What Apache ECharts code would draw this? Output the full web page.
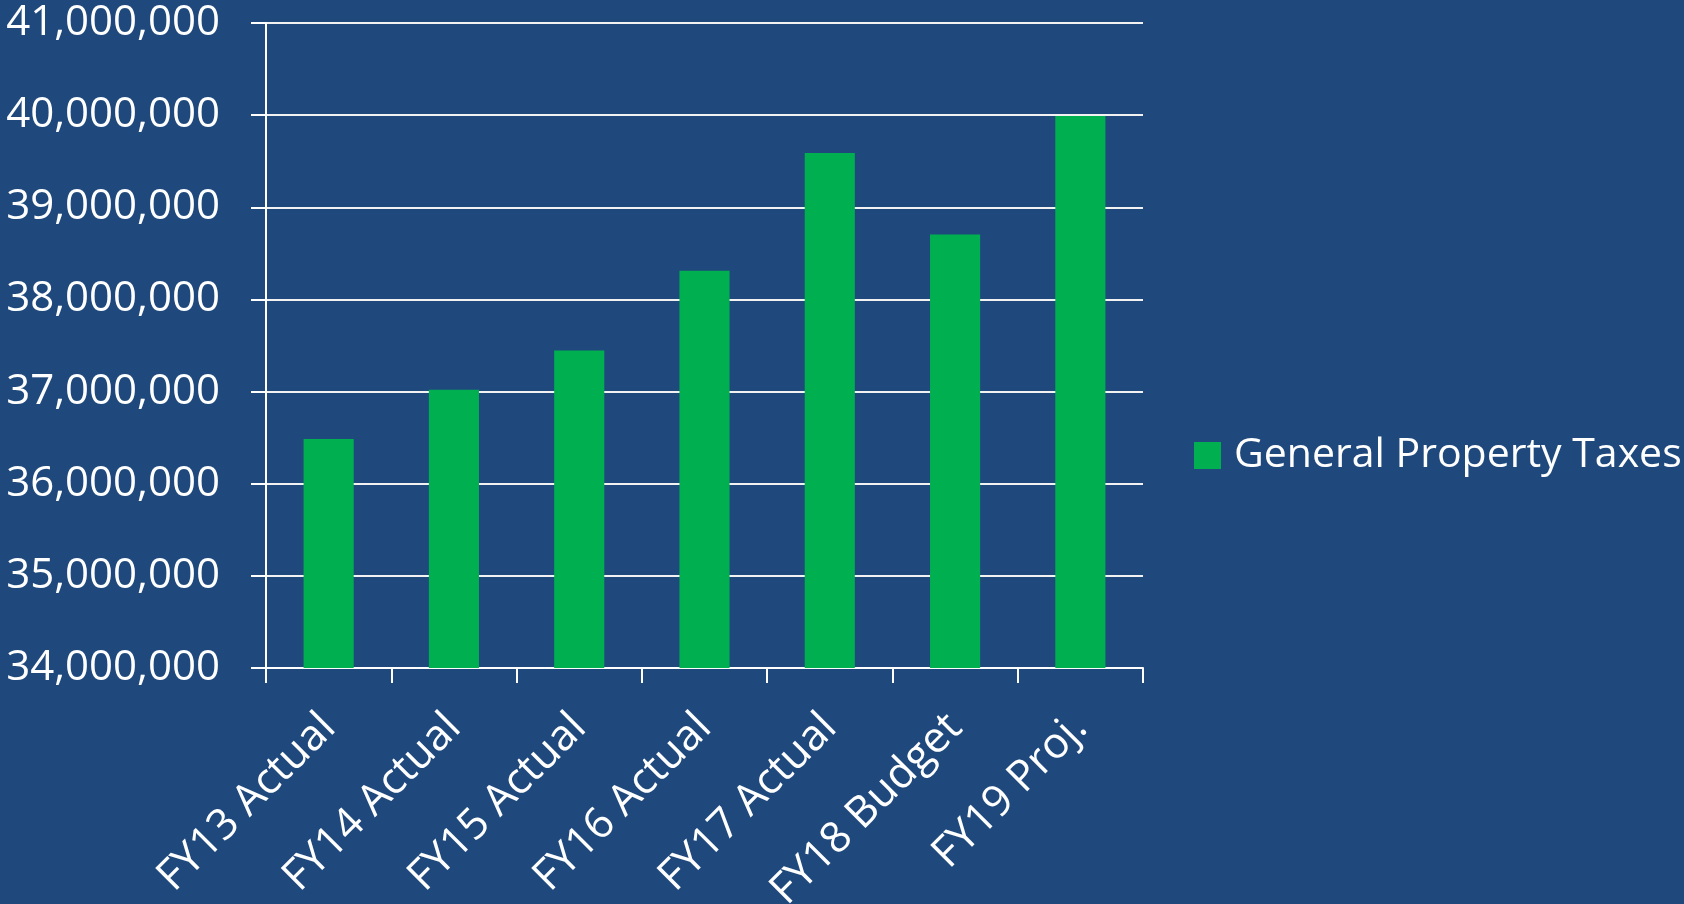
<!DOCTYPE html>
<html>
<head>
<meta charset="utf-8">
<script src="https://cdn.jsdelivr.net/npm/echarts@6/dist/echarts.min.js"></script>
<style>
  html, body { margin: 0; padding: 0; background: #1F497D; }
  #chart { width: 1684px; height: 904px; }
</style>
</head>
<body>
<div id="chart"></div>
<script>
const categories = ['FY13 Actual', 'FY14 Actual', 'FY15 Actual', 'FY16 Actual', 'FY17 Actual', 'FY18 Budget', 'FY19 Proj.'];
const taxValues = [36485000, 37020000, 37445000, 38310000, 39590000, 38705000, 39990000];
const seriesName = 'General Property Taxes';

const chart = echarts.init(document.getElementById('chart'));
const font = '"Open Sans", sans-serif';

chart.setOption({
  backgroundColor: '#1F497D',
  animation: false,
  grid: { left: 266, top: 23, right: 541, bottom: 236, containLabel: false, outerBoundsMode: 'none' },
  legend: {
    data: [seriesName],
    left: 1189,
    top: 430,
    icon: 'rect',
    itemWidth: 27,
    itemHeight: 27,
    textStyle: { color: '#fff', fontSize: 41, fontFamily: font, padding: [0, 0, 0, 8] }
  },
  xAxis: {
    type: 'category',
    data: categories,
    axisLine: { show: true, lineStyle: { color: '#fff', width: 2 } },
    axisTick: { show: true, length: 15, lineStyle: { color: '#fff', width: 2 } },
    axisLabel: { color: '#fff', fontSize: 43, fontFamily: font, rotate: 45, margin: 53 }
  },
  yAxis: {
    type: 'value',
    min: 34000000,
    max: 41000000,
    interval: 1000000,
    axisLine: { show: true, lineStyle: { color: '#fff', width: 2 } },
    axisTick: { show: true, length: 15, lineStyle: { color: '#fff', width: 2 } },
    axisLabel: {
      color: '#fff', fontSize: 42, fontFamily: font, margin: 46,
      formatter: v => v.toLocaleString('en-US')
    },
    splitLine: { show: true, lineStyle: { color: '#F2F2F2', width: 2 } }
  },
  series: [{
    name: seriesName,
    type: 'bar',
    data: taxValues,
    barWidth: '40%',
    itemStyle: { color: '#00B050' }
  }]
});
</script>
</body>
</html>
